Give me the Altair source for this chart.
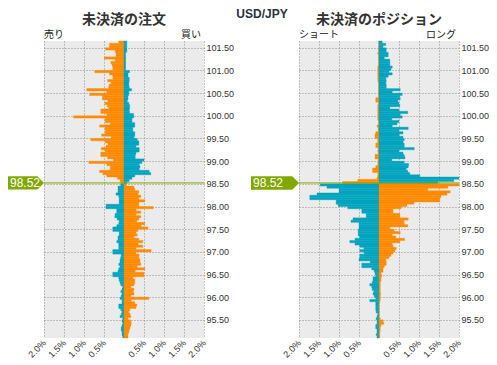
import altair as alt
import pandas as pd

# ---------------- data ----------------
TOP_LEVEL = 101.60          # lower edge of the top price bucket
STEP = 0.05                 # bucket size
CURRENT = 98.52             # current rate
PAIR = "USD/JPY"

# values in %, listed from the top bucket (101.60) down to the bottom one (95.10)
order_sell = [0.13,0.36,0.36,0.46,0.22,0.2,0.2,0.49,0.22,0.33,0.3,0.28,0.28,0.73,0.36,0.28,0.28,0.41,0.32,0.37,
              0.38,0.93,0.43,0.86,0.54,0.54,0.4,0.48,0.42,0.38,0.58,0.58,
              0.43,1.26,0.47,0.47,0.34,0.61,0.47,0.47,0.47,0.56,0.32,0.83,0.47,0.4,0.45,0.57,0.47,0.58,0.58,0.41,
              0.26,0.88,0.43,0.34,0.34,0.61,0.53,0.43,0.16,0.1,0.08,
              0.08,0.15,0.15,0.15,0.2,0.13,0.12,0.12,0.12,0.45,0.45,0.18,0.18,0.22,0.23,0.17,0.12,0.13,0.18,0.28,
              0.28,0.12,0.12,0.15,0.15,0.18,0.13,0.13,0.13,0.28,0.28,0.07,0.08,0.1,
              0.1,0.13,0.1,0.13,0.15,0.28,0.28,0.13,0.12,0.1,0.08,0.03,0.05,0.08,0.05,0.07,0.1,0.05,0.05,0.13,
              0.13,0.08,0.05,0.07,0.1,0.03,0.05,0.03,0.05,0.07,0.07,0.05,0.05,0.03]
order_buy = [0.07,0.07,0.07,0.07,0.07,0.04,0.04,0.04,0.04,0.04,0.04,0.04,0.04,
             0.14,0.1,0.1,0.13,0.13,0.12,0.12,0.13,0.19,0.12,0.12,0.1,0.1,0.08,0.12,0.14,0.14,0.13,
             0.14,0.24,0.24,0.2,0.2,0.27,0.27,0.22,0.22,0.27,0.27,0.25,0.33,0.37,0.37,0.3,0.38,0.38,0.3,0.28,
             0.28,0.5,0.45,0.38,0.4,0.38,0.63,0.67,0.27,0.2,0.13,0.07,
             0.06,0.25,0.27,0.37,0.35,0.42,0.37,0.52,0.37,0.37,0.73,0.3,0.42,0.3,0.42,0.37,0.32,0.52,0.43,0.6,
             0.35,0.3,0.33,0.25,0.37,0.47,0.35,0.47,0.3,0.68,0.3,0.38,0.37,0.4,
             0.4,0.42,0.33,0.52,0.28,0.5,0.5,0.22,0.27,0.27,0.25,0.17,0.25,0.23,0.25,0.17,0.62,0.18,0.27,0.32,
             0.3,0.15,0.12,0.15,0.17,0.1,0.17,0.18,0.17,0.15,0.13,0.12,0.1,0.1]
pos_short = [0.01,0.01,0.01,0.01,0.01,0.03,0.01,0.01,0.01,0.01,
             0.01,0.03,0.03,0.03,0.03,0.03,0.03,0.03,0.01,0.01,
             0.01,0.01,0.01,0.01,0.01,0.08,0.08,0.01,0.03,0.03,
             0.03,0.03,0.03,0.03,0.03,0.01,0.01,0.05,0.02,0.02,
             0.08,0.1,0.1,0.03,0.03,0.08,0.08,0.02,0.03,0.02,
             0.1,0.1,0.02,0.03,0.03,0.08,0.16,0.16,0.03,0.03,
             0.05,0.53,0.91,
             1.47,1.3,1.0,1.0,1.55,1.73,1.73,1.07,1.07,1.02,
             0.78,0.43,0.43,0.32,0.32,0.65,0.7,0.5,0.5,0.5,
             0.52,0.52,0.52,0.48,0.6,0.73,0.6,0.48,0.38,0.48,
             0.37,0.48,0.48,0.5,0.22,0.43,0.43,0.18,0.12,0.1,
             0.08,0.15,0.15,0.17,0.23,0.18,0.17,0.13,0.15,0.12,
             0.08,0.23,0.08,0.08,0.08,0.08,0.07,0.03,0.05,0.07,
             0.05,0.05,0.08,0.08,0.05,0.05,0.07,0.05]
pos_long = [0.08,0.17,0.1,0.18,0.18,0.23,0.23,0.13,0.27,0.27,
            0.27,0.33,0.3,0.25,0.33,0.23,0.17,0.18,0.17,0.18,
            0.18,0.53,0.33,0.58,0.52,0.53,0.47,0.5,0.52,0.27,
            0.5,0.72,0.53,0.58,0.32,0.5,0.45,0.33,0.73,0.5,
            0.6,0.5,0.6,0.63,0.6,0.63,0.63,0.88,0.5,0.6,
            0.63,0.65,0.32,0.63,0.74,0.73,0.68,0.72,0.77,1.02,
            2.05,1.87,1.47,
            2.05,1.72,1.22,1.78,1.7,1.55,1.52,1.52,0.87,0.7,
            0.55,0.35,0.35,0.52,0.52,0.73,0.62,0.63,0.72,0.27,
            0.38,0.53,0.33,0.42,0.64,0.52,0.33,0.35,0.43,0.4,
            0.35,0.3,0.25,0.17,0.18,0.18,0.13,0.1,0.1,0.05,
            0.07,0.05,0.05,0.03,0.03,0.03,0.03,0.03,0.04,0.03,
            0.03,0.03,0.0,0.0,0.0,0.0,0.0,0.0,0.0,0.03,
            0.1,0.12,0.05,0.03,0.03,0.02,0.02,0.02]

x_ticks = [-2.0, -1.5, -1.0, -0.5, 0.0, 0.5, 1.0, 1.5, 2.0]
y_ticks = [95.5, 96.0, 96.5, 97.0, 97.5, 98.0, 98.5, 99.0, 99.5, 100.0, 100.5, 101.0, 101.5]
Y_DOMAIN = [95.10, 101.65]

panel_titles = ["未決済の注文", "未決済のポジション"]
side_labels = [("売り", "買い"), ("ショート", "ロング")]

ORANGE = "#ff8a00"
TEAL = "#00a4bf"
GREEN = "#80a800"
W, H = 160, 297


def build(left, right):
    rows = []
    for k in range(len(left)):
        lo = round(TOP_LEVEL - STEP * k, 2)
        hi = round(lo + STEP, 2)
        above = hi > CURRENT
        rows.append(dict(lo=lo, hi=hi, x=-left[k], x2=0.0, kind="a" if above else "b"))
        rows.append(dict(lo=lo, hi=hi, x=0.0, x2=right[k], kind="b" if above else "a"))
    return pd.DataFrame(rows)


def y_axis():
    return alt.Axis(orient="right", values=y_ticks, format=".2f", title=None, grid=True,
                    ticks=False, domain=False, labelPadding=2, labelFontSize=9,
                    labelOverlap=False, labelBound=False, labelFlush=False)


def panel(df, title, labels, tag_w, ratio, with_pair):
    xs = alt.Scale(domain=[-2, 2], clamp=True, nice=False, zero=False)
    ys = alt.Scale(domain=Y_DOMAIN, clamp=True, nice=False, zero=False)
    cscale = alt.Scale(domain=["a", "b"], range=[ORANGE, TEAL])
    bars = alt.Chart(df).mark_rect(strokeWidth=0.4).encode(
        x=alt.X("x:Q", scale=xs, axis=alt.Axis(
            values=x_ticks, title=None, grid=True, ticks=False, domain=False,
            labelExpr="datum.value == 0 ? '' : format(abs(datum.value), '.1f') + '%'",
            labelAngle=315, labelAlign="right", labelBaseline="middle",
            labelOverlap=False, labelPadding=3, labelFontSize=9)),
        x2="x2:Q",
        y=alt.Y("lo:Q", scale=ys, axis=y_axis()),
        y2="hi:Q",
        color=alt.Color("kind:N", scale=cscale, legend=None),
        stroke=alt.Stroke("kind:N", scale=cscale, legend=None),
    )
    cur = pd.DataFrame({"p": [CURRENT]})
    ypos = alt.Y("p:Q", scale=ys, axis=y_axis())
    rule = alt.Chart(cur).mark_rule(color=GREEN, strokeWidth=1).encode(y=ypos)
    path = f"M -1 -{ratio} L {1 - ratio} -{ratio} L 1 0 L {1 - ratio} {ratio} L -1 {ratio} Z"
    tag = alt.Chart(cur).mark_point(shape=path, size=tag_w * tag_w, filled=True, color=GREEN,
                                    opacity=1, strokeWidth=0).encode(
        x=alt.value(-tag_w / 2), y=ypos)
    tag_text = alt.Chart(cur).mark_text(align="left", baseline="middle", color="white",
                                        fontSize=12, font="Liberation Sans").encode(
        x=alt.value(-tag_w + 2), y=ypos,
        text=alt.Text("p:Q", format=".2f"))
    ttl = alt.Chart(pd.DataFrame({"t": [title]})).mark_text(
        align="center", baseline="alphabetic", fontSize=14, fontWeight="bold",
        font="Noto Sans CJK JP", color="#333333").encode(
        x=alt.value(W / 2), y=alt.value(-17), text="t:N")
    lft = alt.Chart(pd.DataFrame({"t": [labels[0]]})).mark_text(
        align="left", baseline="alphabetic", fontSize=10, font="Noto Sans CJK JP",
        color="#222222").encode(x=alt.value(0), y=alt.value(-3), text="t:N")
    rgt = alt.Chart(pd.DataFrame({"t": [labels[1]]})).mark_text(
        align="right", baseline="alphabetic", fontSize=10, font="Noto Sans CJK JP",
        color="#222222").encode(x=alt.value(W - 3), y=alt.value(-3), text="t:N")
    layers = [bars, rule, tag, tag_text, ttl, lft, rgt]
    if with_pair:
        pair = alt.Chart(pd.DataFrame({"t": [PAIR]})).mark_text(
            align="center", baseline="top", fontSize=12, fontWeight="bold",
            font="Liberation Sans", color="#2a3440").encode(
            x=alt.value(218), y=alt.value(-32), text="t:N")
        layers.append(pair)
    return alt.layer(*layers).properties(width=W, height=H)


left = panel(build(order_sell, order_buy), panel_titles[0], side_labels[0], 36, 0.37, True)
right = panel(build(pos_short, pos_long), panel_titles[1], side_labels[1], 48, 0.28, False)

chart = alt.hconcat(left, right, spacing=95, bounds="flush").properties(
    padding={"left": 0, "top": 0, "right": 0, "bottom": 7}
).configure_view(fill="#ebebeb", strokeWidth=0).configure_axis(
    labelFont="Liberation Sans", labelColor="#333333",
    gridColor="#8c8c8c", gridDash=[1, 2], gridWidth=1, gridOpacity=1
)

chart.save("out.html", embed_options={"renderer": "svg", "actions": False})
